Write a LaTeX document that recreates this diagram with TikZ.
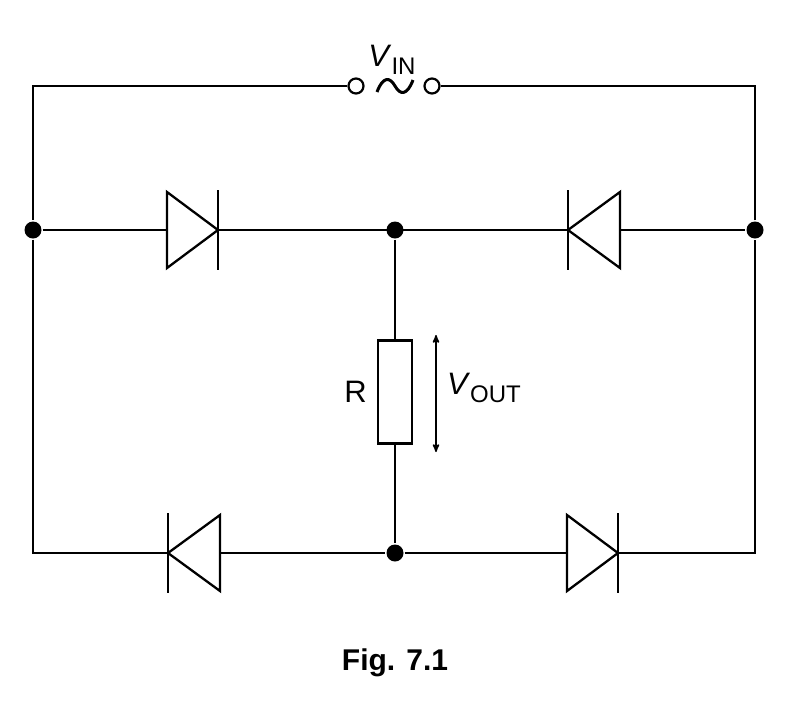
\documentclass[tikz,border=0pt]{standalone}
\usepackage{fontspec}
\setmainfont{Liberation Sans}
\usetikzlibrary{arrows,positioning}
\begin{document}
\begin{tikzpicture}[x=1pt,y=-1pt,line width=2.3pt,
    dot/.style={circle,fill=black,inner sep=0pt,minimum size=17pt},
    term/.style={circle,draw,fill=white,inner sep=0pt,minimum size=15pt,line width=2.2pt},
    lbl/.style={font=\fontsize{31}{36}\selectfont,inner sep=0pt}]
  \useasboundingbox (0,0) rectangle (788,713);

  % junctions and terminals
  \node[dot] (JL) at (33,230) {};
  \node[dot] (JR) at (755,230) {};
  \node[dot] (JT) at (395,230) {};
  \node[dot] (JB) at (395,553) {};
  \node[term] (TL) at (356,86) {};
  \node[term] (TR) at (432,86) {};
  \coordinate (CTL) at (33,86);
  \coordinate (CTR) at (755,86);
  \coordinate (CBL) at (33,553);
  \coordinate (CBR) at (755,553);

  % supply
  \draw (TL) -- (CTL) -- (JL) -- (CBL) -- (JB) -- (CBR) -- (JR) -- (CTR) -- (TR);
  \draw (JL) -- (JR);
  \draw[line width=3pt] (377,92) .. controls (383,76) and (390,77) .. (395,86)
                 .. controls (400,95) and (407,96) .. (413,80);
  \node[lbl] (Vin) at (392,60) {\textit{V}\raisebox{-8pt}{\fontsize{24}{28}\selectfont IN}};

  % diodes
  \draw[fill=white] (167,192) -- (218,230) -- (167,268) -- cycle;
  \draw (218,190) -- (218,270);
  \draw[fill=white] (620,192) -- (568,230) -- (620,268) -- cycle;
  \draw (568,190) -- (568,270);
  \draw[fill=white] (220,515) -- (168,553) -- (220,591) -- cycle;
  \draw (168,513) -- (168,593);
  \draw[fill=white] (567,515) -- (618,553) -- (567,591) -- cycle;
  \draw (618,513) -- (618,593);

  % load
  \node[draw,fill=white,minimum width=34pt,minimum height=103pt,inner sep=0pt] (Res) at (395,392) {};
  \draw (JT) -- (Res.north) (Res.south) -- (JB);
  \node[lbl,left=9pt of Res] (Rlbl) {R};
  \coordinate (VoT) at (436,335);
  \coordinate (VoB) at (436,452);
  \draw[<->,>=stealth',line width=1.6pt,shorten <=0pt,scale=1] (VoT) -- (VoB);
  \node[lbl,anchor=west] (Vout) at (446,388) {\textit{V}\raisebox{-8pt}{\fontsize{24}{28}\selectfont OUT}};

  \node[font=\bfseries\fontsize{30}{34}\selectfont] (Cap) at (395,663) {Fig. 7.1};
\end{tikzpicture}
\end{document}
